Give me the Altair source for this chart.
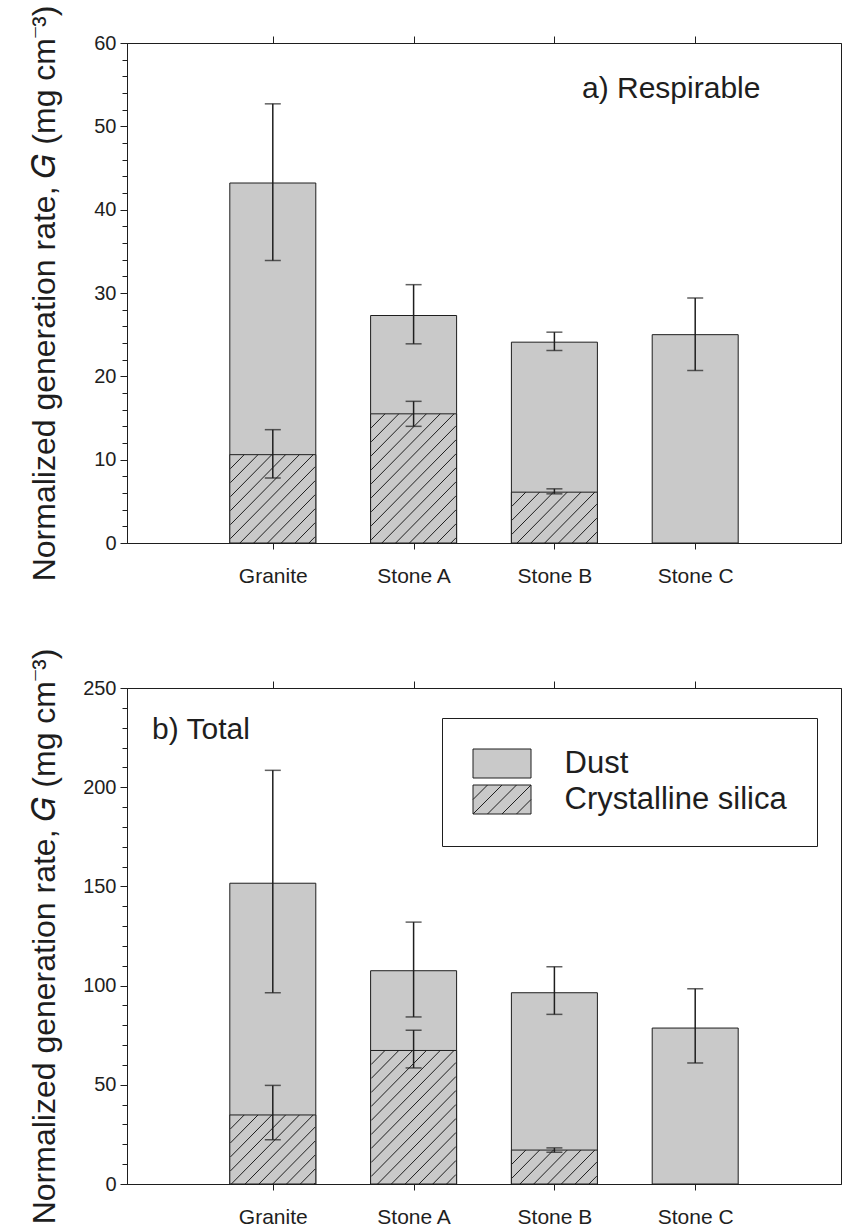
import altair as alt
import pandas as pd

# ---------------- data ----------------
categories = ["Granite", "Stone A", "Stone B", "Stone C"]

# a) Respirable
resp_dust = [43.2, 27.3, 24.1, 25.0]
resp_dust_lo = [33.9, 23.9, 23.1, 20.7]
resp_dust_hi = [52.7, 31.0, 25.3, 29.4]
resp_silica = [10.6, 15.5, 6.1, None]
resp_silica_lo = [7.8, 14.0, 5.9, None]
resp_silica_hi = [13.6, 17.0, 6.5, None]

# b) Total
tot_dust = [151.6, 107.5, 96.4, 78.6]
tot_dust_lo = [96.4, 84.2, 85.5, 61.0]
tot_dust_hi = [208.5, 132.0, 109.5, 98.4]
tot_silica = [34.8, 67.3, 17.1, None]
tot_silica_lo = [22.3, 58.5, 16.0, None]
tot_silica_hi = [49.7, 77.5, 18.2, None]

legend_names = ["Dust", "Crystalline silica"]
panel_labels = ["a) Respirable", "b) Total"]
y_title = "Normalized generation rate,  \U0001D43A (mg cm\u207B\u00B3)"

# ---------------- styling ----------------
FONT = "Liberation Sans"
INK = "#1e1e1e"
GRAY = "#c9c9c9"
PLOT_W = 714
X_DOMAIN = [0, 5]
BAR_PX = 86
HATCH_STEP = 14.0


def hatch_segments(pos, sil, ymax, h):
    """Diagonal hatch lines clipped to each silica bar, in data units."""
    ppx = PLOT_W / (X_DOMAIN[1] - X_DOMAIN[0])
    ppy = h / ymax
    rows = []
    for p, s in zip(pos, sil):
        if s is None:
            continue
        hpx = s * ppy
        xl = p - (BAR_PX / 2) / ppx
        c = -hpx
        while c < BAR_PX:
            a = max(0.0, c)
            b = min(float(BAR_PX), c + hpx)
            if b - a > 0.5:
                rows.append({"hx": xl + a / ppx, "hx2": xl + b / ppx,
                             "hy": (a - c) / ppy, "hy2": (b - c) / ppy})
            c += HATCH_STEP
    return pd.DataFrame(rows)


def legend_paths():
    rect = "M-2,-1H2V1H-2Z"
    lines = [((-2, 0), (-1, -1)), ((-2, 1), (0, -1)), ((-1, 1), (1, -1)),
             ((0, 1), (2, -1)), ((1, 1), (2, 0))]
    hatch = rect + "".join(f"M{a[0]},{a[1]}L{b[0]},{b[1]}" for a, b in lines)
    return [rect, hatch]


def panel(dust, dlo, dhi, sil, slo, shi, ymax, major, minor, h, label, lab_xy, with_legend):
    pos = list(range(1, len(categories) + 1))
    df = pd.DataFrame({"cat": categories, "pos": pos, "dust": dust,
                       "dlo": dlo, "dhi": dhi})
    sdf = pd.DataFrame({"cat": categories, "pos": pos, "sil": sil,
                        "slo": slo, "shi": shi}).dropna()
    hdf = hatch_segments(pos, sil, ymax, h)

    names_js = "[" + ",".join(f"'{c}'" for c in categories) + "]"
    xscale = alt.Scale(domain=X_DOMAIN, nice=False, zero=False)
    xaxis = alt.Axis(values=pos, labelExpr=f"{names_js}[datum.value - 1]",
                     title=None, tickSize=6, labelFontSize=21, labelPadding=16,
                     labelFont=FONT, grid=False)
    yscale = alt.Scale(domain=[0, ymax], nice=False)
    yaxis = alt.Axis(values=list(range(0, ymax + 1, minor)),
                     labelExpr=f"datum.value % {major} === 0 ? datum.label : ''",
                     tickSize={"condition": {"test": f"datum.value % {major} === 0", "value": 7},
                               "value": 5},
                     labelFontSize=20, labelPadding=4, title=y_title,
                     titleFontSize=32, titleFont=FONT, titleFontWeight="normal",
                     titleX=-73, titleY=h / 2, titleBaseline="alphabetic",
                     titleAngle=270, grid=False)

    def X(f):
        return alt.X(f, scale=xscale, axis=xaxis)

    def Y(f):
        return alt.Y(f, scale=yscale, axis=yaxis)

    dust_bar = alt.Chart(df).mark_bar(size=BAR_PX, orient="vertical", fill=GRAY,
                                      stroke=INK, strokeWidth=1).encode(
        x=X("pos:Q"), y=Y("dust:Q"))
    sil_bar = alt.Chart(sdf).mark_bar(size=BAR_PX, orient="vertical", fill=GRAY,
                                      stroke=INK, strokeWidth=1).encode(
        x=X("pos:Q"), y=Y("sil:Q"))
    hatch = alt.Chart(hdf).mark_rule(stroke=INK, strokeWidth=1).encode(
        x=X("hx:Q"), x2="hx2:Q", y=Y("hy:Q"), y2="hy2:Q")

    def errbars(d, lo, hi):
        rule = alt.Chart(d).mark_rule(stroke=INK, strokeWidth=1.5).encode(
            x=X("pos:Q"), y=Y(f"{lo}:Q"), y2=f"{hi}:Q")
        caps = alt.Chart(d).transform_fold([lo, hi], as_=["end", "v"]).mark_tick(
            orient="horizontal", size=16, thickness=1.5, color=INK).encode(
            x=X("pos:Q"), y=Y("v:Q"))
        return [rule, caps]

    text = alt.Chart(pd.DataFrame({"t": [label]})).mark_text(
        align="left", baseline="alphabetic", fontSize=30, font=FONT, color=INK).encode(
        text="t:N", x=alt.value(lab_xy[0]), y=alt.value(lab_xy[1]))

    layers = [dust_bar, sil_bar, hatch] + errbars(df, "dlo", "dhi") + errbars(sdf, "slo", "shi") + [text]

    if with_legend:
        ldf = pd.DataFrame({"comp": legend_names})
        leg = alt.Chart(ldf).transform_filter("false").mark_point().encode(
            x=X("pos:Q"), y=Y("dust:Q"),
            shape=alt.Shape("comp:N", scale=alt.Scale(domain=legend_names, range=legend_paths()),
                            legend=alt.Legend(title=None, orient="none", legendX=315, legendY=30,
                                              strokeColor=INK, padding=30, symbolSize=841,
                                              symbolOffset=14.5, labelOffset=47,
                                              symbolStrokeColor=INK, symbolStrokeWidth=1,
                                              symbolFillColor=GRAY, symbolOpacity=1,
                                              labelFont=FONT, labelFontSize=31, labelLimit=500,
                                              labelColor=INK, rowPadding=3)),
            fill=alt.Fill("comp:N", scale=alt.Scale(domain=legend_names, range=[GRAY, GRAY]),
                          legend=None))
        layers.append(leg)

    inner = alt.layer(*layers)
    top_axis = alt.Chart(df).mark_rule(opacity=0).encode(
        x=alt.X("pos:Q", scale=xscale,
                axis=alt.Axis(orient="top", values=pos, labels=False, tickSize=7,
                              title=None, grid=False)))
    return alt.layer(inner, top_axis).resolve_axis(x="independent").properties(
        width=PLOT_W, height=h)


top = panel(resp_dust, resp_dust_lo, resp_dust_hi, resp_silica, resp_silica_lo,
            resp_silica_hi, 60, 10, 2, 500, panel_labels[0], (455, 55), False)
bottom = panel(tot_dust, tot_dust_lo, tot_dust_hi, tot_silica, tot_silica_lo,
               tot_silica_hi, 250, 50, 10, 496, panel_labels[1], (25, 51), True)

chart = alt.vconcat(top, bottom, spacing=56).resolve_legend(
    shape="independent", fill="independent").configure_view(
    stroke=INK, strokeWidth=1).configure_axis(
    domainColor=INK, tickColor=INK, labelColor=INK, titleColor=INK,
    labelFont=FONT, titleFont=FONT, domainWidth=1, tickWidth=1).properties(
    padding={"left": 27, "top": 0, "right": 1, "bottom": 0}, background="white")

chart.save("out.html", embed_options={"renderer": "svg", "actions": False})
